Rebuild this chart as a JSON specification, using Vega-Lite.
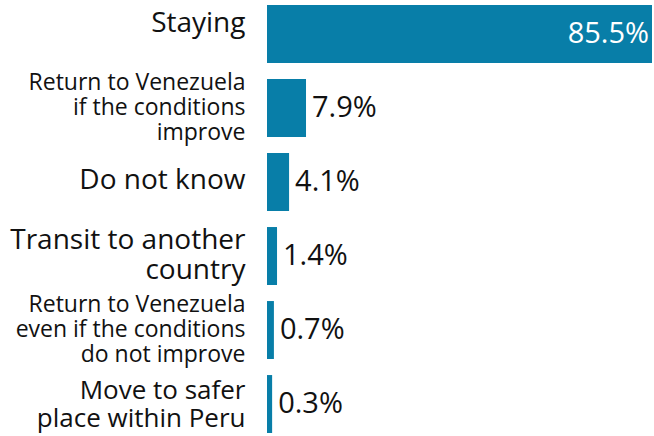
{
  "$schema": "https://vega.github.io/schema/vega-lite/v6.json",
  "autosize": {"type": "none"},
  "width": 385,
  "height": 428,
  "padding": {"left": 267, "top": 5, "right": 2, "bottom": 3},
  "background": "white",
  "config": {"view": {"stroke": null}, "font": "Open Sans"},
  "data": {
    "values": [
      {"label": "Staying", "value": 0.855},
      {"label": "Return to Venezuela|if the conditions|improve", "value": 0.079},
      {"label": "Do not know", "value": 0.041},
      {"label": "Transit to another|country", "value": 0.014},
      {"label": "Return to Venezuela|even if the conditions|do not improve", "value": 0.007},
      {"label": "Move to safer|place within Peru", "value": 0.003}
    ]
  },
  "encoding": {
    "y": {
      "field": "label",
      "type": "nominal",
      "sort": null,
      "scale": {"paddingInner": 0.217, "paddingOuter": 0},
      "axis": {
        "title": null,
        "domain": false,
        "ticks": false,
        "labelPadding": 22,
        "labelColor": "#111111",
        "labelFont": "Open Sans",
        "labelLimit": 300,
        "labelFontSize": {"condition": [
          {"test": "length(split(datum.value, '|')) > 2", "value": 23},
          {"test": "indexof(datum.value, 'Move') == 0", "value": 26}
        ], "value": 28},
        "labelOffset": {"condition": [
          {"test": "length(split(datum.value, '|')) > 2", "value": -25},
          {"test": "indexof(datum.value, 'Move') == 0", "value": -13},
          {"test": "length(split(datum.value, '|')) == 2", "value": -15},
          {"test": "datum.value == 'Staying'", "value": -10}
        ], "value": -1},
        "labelExpr": "split(datum.value, '|')"
      }
    }
  },
  "layer": [
    {
      "mark": {"type": "bar", "color": "#087ea8"},
      "encoding": {
        "x": {"field": "value", "type": "quantitative", "scale": {"domain": [-0.0085, 0.855], "zero": false, "nice": false}, "axis": null},
        "x2": {"datum": -0.0085}
      }
    },
    {
      "transform": [{"filter": "datum.value > 0.5"}],
      "mark": {"type": "text", "align": "right", "dx": -3, "color": "white", "fontSize": 29, "font": "Open Sans"},
      "encoding": {
        "x": {"field": "value", "type": "quantitative"},
        "text": {"field": "value", "type": "quantitative", "format": ".1%"}
      }
    },
    {
      "transform": [{"filter": "datum.value <= 0.5"}],
      "mark": {"type": "text", "align": "left", "dx": 6, "color": "#111111", "fontSize": 29, "font": "Open Sans"},
      "encoding": {
        "x": {"field": "value", "type": "quantitative"},
        "text": {"field": "value", "type": "quantitative", "format": ".1%"}
      }
    }
  ]
}
